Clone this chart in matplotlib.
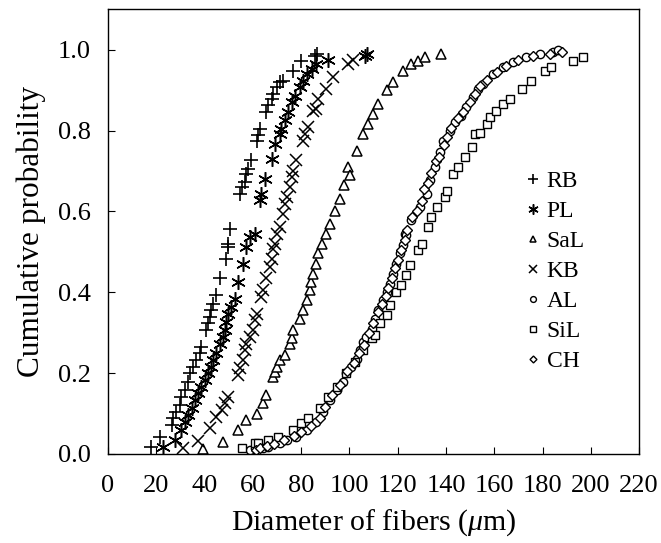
import matplotlib
matplotlib.use("Agg")
import matplotlib.pyplot as plt

plt.rcParams['font.family'] = ['Liberation Serif', 'DejaVu Serif']
plt.rcParams['mathtext.fontset'] = 'custom'
plt.rcParams['mathtext.rm'] = 'Liberation Serif'
plt.rcParams['mathtext.it'] = 'Liberation Serif:italic'

# ---- data ----
rb_x = [18.1, 21.5, 26.4, 27.1, 28.4, 29.8, 30.5, 31.9, 33.3, 34.0, 35.3, 36.7, 38.1, 38.8,
        40.8, 41.5, 42.2, 42.9, 43.6, 45.0, 46.4, 49.1, 49.8, 49.8, 50.5, 54.7, 55.4, 56.7,
        57.4, 58.1, 59.5, 61.6, 62.3, 62.9, 65.7, 66.4, 67.8, 68.5, 69.9, 71.2, 72.6, 76.7,
        80.2, 85.7, 86.8]
rb_y = [0.018, 0.043, 0.072, 0.088, 0.104, 0.121, 0.142, 0.158, 0.179, 0.199, 0.216, 0.232,
        0.249, 0.265, 0.306, 0.323, 0.339, 0.356, 0.372, 0.393, 0.434, 0.483, 0.512, 0.520,
        0.557, 0.644, 0.660, 0.672, 0.693, 0.705, 0.726, 0.775, 0.788, 0.804, 0.845, 0.862,
        0.878, 0.891, 0.907, 0.919, 0.923, 0.948, 0.973, 0.985, 0.989]

pl_x = [22.9, 27.7, 30.5, 31.9, 33.3, 34.7, 36.0, 37.4, 38.8, 40.2, 41.5, 42.9, 43.6, 45.0,
        46.4, 47.7, 48.4, 49.1, 49.8, 51.2, 52.6, 54.0, 56.0, 57.4, 58.8, 61.1, 62.9, 63.6,
        65.0, 67.8, 69.2, 71.2, 71.9, 73.3, 74.7, 76.1, 77.4, 79.5, 80.9, 82.3, 84.4, 86.4,
        91.1, 106.5, 107.5]
pl_y = [0.018, 0.035, 0.059, 0.080, 0.096, 0.113, 0.133, 0.150, 0.166, 0.183, 0.199, 0.216,
        0.232, 0.249, 0.273, 0.290, 0.306, 0.327, 0.347, 0.364, 0.384, 0.425, 0.471, 0.512,
        0.537, 0.545, 0.627, 0.644, 0.681, 0.730, 0.767, 0.792, 0.804, 0.825, 0.845, 0.870,
        0.886, 0.907, 0.923, 0.940, 0.952, 0.964, 0.975, 0.985, 0.990]

sal_x = [39.5, 47.7, 54.0, 57.4, 61.6, 64.3, 65.7, 68.5, 69.2, 69.9, 71.2, 73.3, 75.4, 76.1,
         76.7, 79.5, 80.9, 82.3, 83.6, 84.3, 85.0, 86.4, 87.1, 88.5, 90.5, 92.0, 94.0, 96.0,
         98.0, 99.5, 100.2, 103.0, 105.7, 107.8, 109.9, 111.9, 115.4, 118.1, 122.3, 125.7,
         128.5, 131.3, 138.1]
sal_y = [0.012, 0.030, 0.059, 0.084, 0.100, 0.125, 0.146, 0.191, 0.203, 0.216, 0.232, 0.244,
         0.273, 0.286, 0.306, 0.335, 0.356, 0.380, 0.405, 0.425, 0.446, 0.471, 0.496, 0.520,
         0.545, 0.570, 0.600, 0.630, 0.665, 0.709, 0.690, 0.750, 0.792, 0.816, 0.841, 0.866,
         0.899, 0.919, 0.948, 0.964, 0.973, 0.981, 0.989]

kb_x = [31.2, 37.5, 42.2, 45.0, 47.1, 48.4, 49.8, 54.0, 54.7, 56.0, 56.7, 57.4, 58.8, 60.2,
        60.9, 61.6, 63.6, 64.3, 65.7, 67.1, 67.8, 68.5, 69.2, 69.9, 71.2, 72.6, 73.3, 74.0,
        75.4, 76.1, 76.7, 78.1, 80.9, 81.6, 82.9, 85.0, 86.4, 87.1, 90.5, 93.3, 99.5, 101.6]
kb_y = [0.014, 0.033, 0.063, 0.092, 0.109, 0.125, 0.142, 0.195, 0.212, 0.232, 0.257, 0.273,
        0.290, 0.306, 0.331, 0.347, 0.388, 0.405, 0.434, 0.462, 0.483, 0.508, 0.520, 0.545,
        0.561, 0.594, 0.619, 0.635, 0.660, 0.684, 0.701, 0.726, 0.775, 0.792, 0.808, 0.849,
        0.853, 0.878, 0.903, 0.932, 0.965, 0.975]

al_x = [58.8, 60.9, 64.3, 66.4, 71.2, 74.0, 78.1, 82.3, 86.4, 89.2, 91.9, 94.7, 97.5, 98.8,
        100.9, 103.0, 104.3, 105.7, 107.1, 109.2, 110.6, 111.9, 114.0, 115.4, 116.8, 118.1,
        119.5, 120.9, 122.3, 123.0, 123.6, 125.7, 129.2, 132.0, 133.3, 135.4, 137.5, 138.8,
        141.6, 143.7, 146.4, 148.5, 151.3, 153.4, 155.4, 159.5, 163.7, 167.8, 173.3, 178.9,
        184.4, 186.5]
al_y = [0.010, 0.014, 0.014, 0.018, 0.026, 0.035, 0.043, 0.059, 0.080, 0.104, 0.133, 0.158,
        0.179, 0.199, 0.216, 0.236, 0.257, 0.277, 0.290, 0.310, 0.335, 0.356, 0.380, 0.401,
        0.421, 0.446, 0.471, 0.496, 0.516, 0.545, 0.541, 0.578, 0.611, 0.644, 0.677, 0.709,
        0.746, 0.775, 0.800, 0.820, 0.837, 0.858, 0.882, 0.903, 0.915, 0.940, 0.957, 0.969,
        0.981, 0.989, 0.993, 0.998]

sil_x = [55.4, 60.9, 62.3, 66.4, 70.5, 76.7, 80.2, 82.9, 87.8, 91.2, 94.7, 98.8, 102.3, 105.7,
         109.2, 110.5, 112.6, 115.4, 116.8, 119.5, 121.6, 123.6, 125.0, 128.5, 129.9, 132.6,
         134.0, 136.1, 139.5, 140.5, 143.0, 145.0, 147.8, 150.6, 152.0, 154.0, 156.8, 158.2,
         160.9, 163.7, 166.5, 171.3, 175.4, 181.0, 183.7, 192.7, 196.8]
sil_y = [0.014, 0.026, 0.028, 0.035, 0.043, 0.059, 0.076, 0.088, 0.113, 0.142, 0.166, 0.199,
         0.228, 0.257, 0.286, 0.295, 0.323, 0.343, 0.368, 0.401, 0.417, 0.442, 0.467, 0.504,
         0.520, 0.561, 0.586, 0.611, 0.635, 0.650, 0.693, 0.709, 0.734, 0.759, 0.792, 0.795,
         0.816, 0.833, 0.849, 0.866, 0.878, 0.903, 0.923, 0.948, 0.957, 0.973, 0.981]

ch_x = [61.5, 63.0, 66.0, 69.0, 73.0, 77.0, 80.0, 84.0, 88.0, 90.0, 93.0, 96.0, 99.0, 102.0,
        104.0, 106.0, 108.0, 110.0, 112.0, 113.5, 115.0, 116.0, 117.5, 119.0, 120.0, 121.5,
        123.0, 124.0, 126.0, 128.0, 130.0, 131.0, 132.5, 134.0, 136.0, 137.0, 139.0, 140.5,
        142.0, 145.0, 147.0, 150.0, 152.0, 154.0, 157.0, 161.0, 165.0, 170.0, 176.0, 183.0,
        188.0]
ch_y = [0.010, 0.015, 0.020, 0.025, 0.035, 0.045, 0.055, 0.070, 0.090, 0.115, 0.145, 0.170,
        0.205, 0.225, 0.250, 0.270, 0.300, 0.325, 0.350, 0.370, 0.390, 0.410, 0.435, 0.460,
        0.480, 0.505, 0.530, 0.555, 0.585, 0.600, 0.625, 0.655, 0.670, 0.695, 0.725, 0.735,
        0.765, 0.785, 0.805, 0.830, 0.845, 0.870, 0.890, 0.910, 0.925, 0.945, 0.960, 0.975,
        0.985, 0.990, 0.995]

series_names = ["RB", "PL", "SaL", "KB", "AL", "SiL", "CH"]
x_ticks = [0, 20, 40, 60, 80, 100, 120, 140, 160, 180, 200, 220]
y_ticks = [0.0, 0.2, 0.4, 0.6, 0.8, 1.0]

# ---- figure ----
fig = plt.figure(figsize=(6.61, 5.43), dpi=100)
ax = fig.add_axes([0.163, 0.164, 0.804, 0.819])

styles = [
    dict(marker='+', ms=10.5, mew=1.2),
    dict(marker=(6, 2, 0), ms=10.5, mew=1.1),
    dict(marker='^', ms=6.5, mew=1.1, mfc='white'),
    dict(marker='x', ms=8, mew=1.1),
    dict(marker='o', ms=6, mew=1.0, mfc='white'),
    dict(marker='s', ms=6, mew=1.0, mfc='white'),
    dict(marker='D', ms=5, mew=1.0, mfc='white'),
]
data = [(rb_x, rb_y), (pl_x, pl_y), (sal_x, sal_y), (kb_x, kb_y),
        (al_x, al_y), (sil_x, sil_y), (ch_x, ch_y)]

for (xs, ys), name, st in zip(data, series_names, styles):
    ax.plot(xs, ys, linestyle='none', color='black', mec='black', label=name, **st)

ax.set_xlim(0, 220)
ax.set_ylim(0, 1.1)
ax.set_xticks(x_ticks)
ax.set_yticks(y_ticks)
ax.set_yticklabels([f"{v:.1f}" for v in y_ticks])
ax.tick_params(direction='in', length=5, width=0.8, labelsize=19)
ax.tick_params(axis='x', pad=15)
ax.tick_params(axis='y', pad=12)
for s in ax.spines.values():
    s.set_linewidth(1.0)

ax.set_xlabel(r"Diameter of fibers ($\mathit{\mu}$m)", fontsize=21.5, labelpad=7.5)
ax.set_ylabel("Cumulative probability", fontsize=22.5, labelpad=9)

leg = ax.legend(loc='center left', bbox_to_anchor=(0.755, 0.41), frameon=False,
                fontsize=17, markerscale=0.7, handlelength=0.6, handletextpad=0.3,
                labelspacing=0.36, borderpad=0.2)

fig.savefig("out.png", dpi=100)
